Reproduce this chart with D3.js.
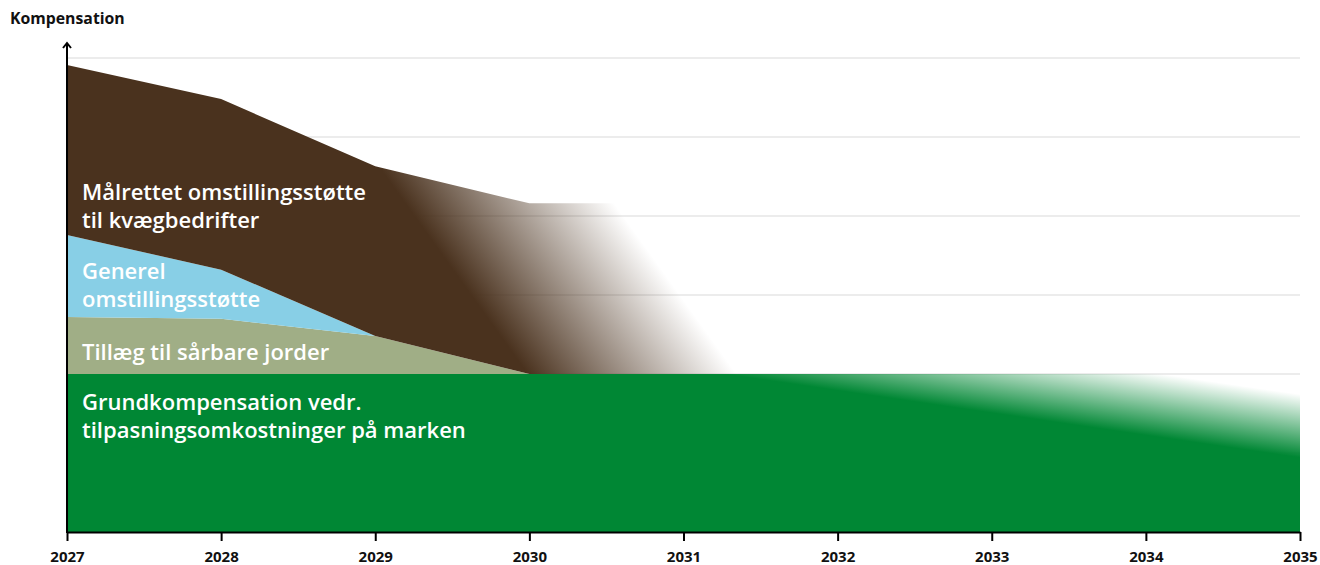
<!DOCTYPE html>
<html lang="da">
<head>
    <meta charset="UTF-8">
    <title>Kompensation</title>
    <script src="https://cdn.jsdelivr.net/npm/d3@7"></script>
    <style>
        body { margin: 0; background: #fff; }
        svg { display: block; font-family: "Open Sans", sans-serif; }
    </style>
</head>
<body>
    <div id="chart"></div>
    <script>
        // data (units = grid steps)
        const years = [2027, 2028, 2029, 2030, 2031, 2032, 2033, 2034, 2035];
        const grund = [2, 2, 2, 2, 2, 2, 2, 2, 2];
        const tillaeg = [0.72, 0.70, 0.48, 0, 0, 0, 0, 0, 0];
        const generel = [1.04, 0.62, 0, 0, 0, 0, 0, 0, 0];
        const maalrettet = [2.15, 2.16, 2.15, 2.16, 2.16, 0, 0, 0, 0];
        const gridValues = [1, 2, 3, 4, 5, 6];

        const keys = ["grund", "tillaeg", "generel", "maalrettet"];
        const colors = {
            grund: "url(#fadeGreen)",
            tillaeg: "#a0ae86",
            generel: "#88cfe6",
            maalrettet: "url(#fadeBrown)"
        };
        const labels = [
            { lines: ["Målrettet omstillingsstøtte", "til kvægbedrifter"], y: 4.2 },
            { lines: ["Generel", "omstillingsstøtte"], y: 3.2 },
            { lines: ["Tillæg til sårbare jorder"], y: 2.18 },
            { lines: ["Grundkompensation vedr.", "tilpasningsomkostninger på marken"], y: 1.55 }
        ];

        const table = years.map((yr, i) => ({
            year: yr,
            grund: grund[i],
            tillaeg: tillaeg[i],
            generel: generel[i],
            maalrettet: maalrettet[i]
        }));

        const width = 1320, height = 565;
        const margin = { left: 67, right: 20, top: 58, bottom: 33 };

        const svg = d3.select("#chart").append("svg")
            .attr("width", width)
            .attr("height", height);

        const x = d3.scaleLinear()
            .domain([2027, 2035])
            .range([margin.left, width - margin.right]);
        const y = d3.scaleLinear()
            .domain([0, 6])
            .range([height - margin.bottom, margin.top]);

        // gradients for the faded layers
        const defs = svg.append("defs");
        const gb = defs.append("linearGradient")
            .attr("id", "fadeBrown")
            .attr("gradientUnits", "userSpaceOnUse")
            .attr("x1", 466).attr("y1", 288)
            .attr("x2", 604).attr("y2", 189);
        gb.append("stop").attr("offset", 0).attr("stop-color", "#4a321e").attr("stop-opacity", 1);
        gb.append("stop").attr("offset", 1).attr("stop-color", "#4a321e").attr("stop-opacity", 0);

        const gg = defs.append("linearGradient")
            .attr("id", "fadeGreen")
            .attr("gradientUnits", "userSpaceOnUse")
            .attr("x1", 1000).attr("y1", 414)
            .attr("x2", 1009).attr("y2", 352);
        gg.append("stop").attr("offset", 0).attr("stop-color", "#008734").attr("stop-opacity", 1);
        gg.append("stop").attr("offset", 1).attr("stop-color", "#008734").attr("stop-opacity", 0);

        // grid lines
        svg.append("g")
            .selectAll("line")
            .data(gridValues)
            .join("line")
            .attr("x1", x(2027))
            .attr("x2", x(2035))
            .attr("y1", d => y(d))
            .attr("y2", d => y(d))
            .attr("stroke", "#e6e6e6")
            .attr("stroke-width", 1.5);

        // stacked areas
        const series = d3.stack().keys(keys)(table);
        const area = d3.area()
            .x(d => x(d.data.year))
            .y0(d => y(d[0]))
            .y1(d => y(d[1]));

        svg.append("g")
            .selectAll("path")
            .data(series)
            .join("path")
            .attr("d", area)
            .attr("fill", d => colors[d.key]);

        // labels inside areas
        const lab = svg.append("g")
            .attr("fill", "#fff")
            .style("font-size", "22px")
            .style("font-weight", 600);
        labels.forEach(l => {
            l.lines.forEach((t, i) => {
                lab.append("text")
                    .attr("x", x(2027) + 15)
                    .attr("y", y(l.y) + i * 28)
                    .text(t);
            });
        });

        // x axis
        const xAxis = svg.append("g")
            .attr("transform", `translate(0,${y(0)})`)
            .call(d3.axisBottom(x).tickValues(years).tickFormat(d3.format("d")).tickSize(9).tickSizeOuter(0));
        xAxis.select(".domain").attr("stroke", "#000").attr("stroke-width", 2);
        xAxis.selectAll(".tick line").attr("stroke", "#000").attr("stroke-width", 2);
        xAxis.selectAll(".tick text")
            .attr("fill", "#111")
            .attr("dy", "1.2em")
            .style("font-size", "15px")
            .style("font-weight", 700)
            .style("font-family", "'Open Sans', sans-serif");

        // y axis with arrow
        svg.append("line")
            .attr("x1", x(2027)).attr("x2", x(2027))
            .attr("y1", y(0) + 1).attr("y2", 44)
            .attr("stroke", "#000").attr("stroke-width", 2);
        svg.append("path")
            .attr("d", `M${x(2027) - 4},${48} L${x(2027)},${43} L${x(2027) + 4},${48}`)
            .attr("fill", "none")
            .attr("stroke", "#000")
            .attr("stroke-width", 2);

        svg.append("text")
            .attr("x", 10)
            .attr("y", 24)
            .attr("fill", "#111")
            .style("font-size", "15.8px")
            .style("font-weight", 700)
            .text("Kompensation");
    </script>
</body>
</html>
